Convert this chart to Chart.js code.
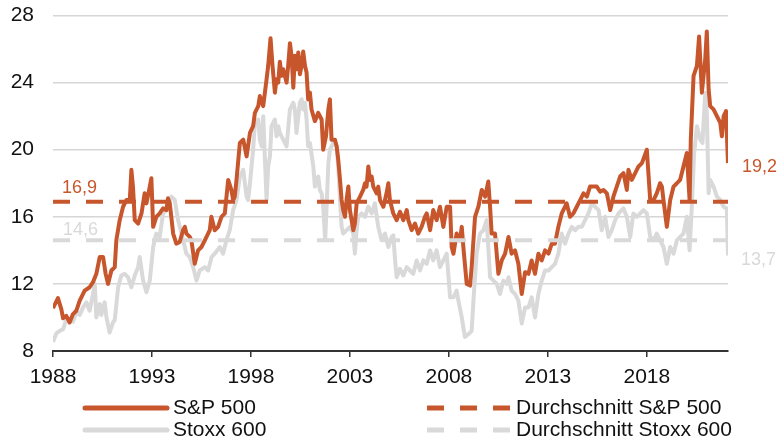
<!DOCTYPE html>
<html><head><meta charset="utf-8">
<script src="https://cdn.jsdelivr.net/npm/chart.js@4.4.1/dist/chart.umd.min.js"></script>
<style>html,body{margin:0;padding:0;background:#fff;}#wrap{width:779px;height:442px;}</style>
</head><body><div id="wrap"><canvas id="c" width="779" height="442"></canvas></div>
<script>
const seriesNames = ['S&P 500', 'Stoxx 600', 'Durchschnitt S&P 500', 'Durchschnitt Stoxx 600'];
const xTickYears = [1988, 1993, 1998, 2003, 2008, 2013, 2018];
const yTickValues = [8, 12, 16, 20, 24, 28];
const avgSP = 16.9;
const avgStoxx = 14.6;

const spYears = [1988.00,1988.25,1988.42,1988.51,1988.67,1988.84,1989.01,1989.18,1989.35,1989.60,1989.85,1990.02,1990.19,1990.36,1990.53,1990.66,1990.78,1990.95,1991.12,1991.20,1991.37,1991.54,1991.71,1991.88,1991.96,1992.04,1992.13,1992.30,1992.47,1992.63,1992.72,1992.89,1992.97,1993.06,1993.22,1993.39,1993.56,1993.73,1993.81,1993.90,1994.07,1994.23,1994.40,1994.57,1994.66,1994.74,1994.91,1994.99,1995.16,1995.33,1995.50,1995.67,1995.92,1996.00,1996.17,1996.34,1996.51,1996.68,1996.85,1997.01,1997.10,1997.18,1997.27,1997.44,1997.61,1997.78,1997.95,1998.11,1998.20,1998.37,1998.45,1998.62,1998.79,1998.87,1998.99,1999.09,1999.21,1999.29,1999.38,1999.46,1999.55,1999.63,1999.80,1999.88,1999.97,2000.05,2000.14,2000.22,2000.30,2000.39,2000.47,2000.56,2000.64,2000.73,2000.81,2000.89,2000.98,2001.06,2001.23,2001.40,2001.57,2001.65,2001.79,2001.91,2001.99,2002.07,2002.24,2002.33,2002.41,2002.50,2002.58,2002.66,2002.75,2002.83,2002.92,2003.00,2003.17,2003.25,2003.34,2003.51,2003.67,2003.76,2003.84,2003.93,2004.01,2004.10,2004.18,2004.35,2004.43,2004.52,2004.69,2004.85,2004.94,2005.02,2005.19,2005.36,2005.53,2005.70,2005.87,2005.95,2006.12,2006.29,2006.45,2006.62,2006.79,2006.88,2007.05,2007.21,2007.38,2007.55,2007.72,2007.89,2008.06,2008.14,2008.23,2008.39,2008.56,2008.65,2008.73,2008.90,2009.07,2009.15,2009.32,2009.49,2009.66,2009.83,2009.99,2010.08,2010.16,2010.33,2010.50,2010.67,2010.84,2011.01,2011.17,2011.34,2011.51,2011.68,2011.85,2012.02,2012.18,2012.35,2012.52,2012.69,2012.86,2013.03,2013.20,2013.36,2013.53,2013.70,2013.95,2014.12,2014.29,2014.46,2014.63,2014.80,2014.97,2015.13,2015.30,2015.47,2015.64,2015.81,2015.98,2016.15,2016.31,2016.48,2016.65,2016.82,2016.99,2017.07,2017.24,2017.41,2017.58,2017.75,2018.00,2018.17,2018.34,2018.50,2018.67,2018.76,2018.84,2019.01,2019.18,2019.35,2019.52,2019.68,2019.85,2020.02,2020.16,2020.22,2020.36,2020.53,2020.64,2020.78,2020.95,2021.03,2021.12,2021.20,2021.37,2021.54,2021.71,2021.79,2021.88,2022.00,2022.10];
const spValues = [10.55,11.15,10.5,9.95,10.1,9.7,10.2,10.4,11.0,11.6,11.8,12.1,12.6,13.6,13.6,12.6,12.0,12.8,13.0,14.6,15.8,16.6,17.0,17.0,18.8,17.8,15.8,15.6,16.2,17.4,16.8,17.8,18.3,15.4,16.0,16.2,16.5,16.4,17.1,16.8,15.0,14.4,14.5,15.2,15.4,15.0,14.8,14.6,13.2,14.0,14.2,14.6,15.2,16.0,15.2,15.4,16.0,16.2,18.2,17.6,17.0,17.2,18.2,20.4,20.6,19.6,21.0,21.4,22.2,22.6,23.2,22.6,24.2,25.0,26.65,25.0,23.4,24.2,24.0,25.25,24.4,24.8,24.0,25.0,26.35,25.6,23.7,25.6,24.8,25.8,24.5,25.0,25.85,25.0,24.6,23.0,23.4,22.4,21.7,22.2,21.8,20.0,20.8,22.4,23.0,20.6,20.6,20.2,19.4,18.2,17.0,16.4,16.0,17.0,17.8,16.4,15.2,15.6,16.8,17.2,17.6,18.0,17.8,19.0,18.2,18.4,17.8,17.4,17.8,17.0,16.6,17.4,18.0,17.0,16.2,15.8,16.3,15.8,16.4,15.8,15.2,15.6,15.0,15.4,16.0,16.2,15.2,16.4,15.8,16.6,15.4,16.6,16.6,14.2,13.8,15.0,14.6,15.4,14.2,12.0,11.9,13.0,16.0,16.6,17.6,17.2,18.1,16.6,15.0,15.0,12.6,13.4,13.8,14.8,13.8,14.0,13.2,11.4,12.7,12.6,13.4,12.6,13.8,13.4,14.0,13.8,14.4,14.4,15.4,16.2,16.8,16.0,16.2,16.6,17.0,17.4,17.2,17.8,17.8,17.8,17.5,17.6,17.4,16.4,17.2,17.8,18.4,18.6,17.6,18.8,18.2,18.6,19.0,19.2,20.0,17.0,17.0,17.4,18.0,17.8,17.0,15.4,17.0,17.8,18.0,18.2,19.0,19.8,17.0,20.6,24.4,25.0,26.75,23.4,25.4,27.05,23.6,22.6,22.4,22.0,21.6,20.8,22.0,22.3,19.2];

const stoxxYears = [1988.00,1988.17,1988.34,1988.51,1988.67,1988.84,1989.01,1989.18,1989.35,1989.52,1989.69,1989.85,1990.02,1990.11,1990.19,1990.27,1990.36,1990.44,1990.61,1990.70,1990.86,1991.03,1991.12,1991.29,1991.45,1991.62,1991.79,1991.96,1992.13,1992.30,1992.38,1992.55,1992.72,1992.89,1993.06,1993.22,1993.39,1993.56,1993.81,1993.98,1994.15,1994.32,1994.49,1994.74,1994.91,1995.08,1995.25,1995.41,1995.67,1995.84,1996.01,1996.17,1996.43,1996.59,1996.76,1996.93,1997.10,1997.27,1997.44,1997.61,1997.78,1997.86,1997.95,1998.11,1998.20,1998.37,1998.45,1998.54,1998.62,1998.70,1998.79,1998.87,1998.96,1999.04,1999.21,1999.29,1999.38,1999.46,1999.63,1999.80,1999.97,2000.14,2000.22,2000.30,2000.47,2000.56,2000.64,2000.73,2000.81,2000.89,2000.98,2001.15,2001.23,2001.40,2001.48,2001.57,2001.65,2001.75,2001.85,2001.91,2001.99,2002.16,2002.33,2002.41,2002.50,2002.58,2002.66,2002.83,2003.00,2003.17,2003.25,2003.34,2003.42,2003.59,2003.76,2003.93,2004.10,2004.26,2004.43,2004.60,2004.77,2004.94,2005.11,2005.19,2005.27,2005.36,2005.53,2005.70,2005.87,2006.03,2006.20,2006.37,2006.54,2006.71,2006.88,2007.05,2007.21,2007.38,2007.55,2007.72,2007.89,2008.06,2008.23,2008.39,2008.48,2008.65,2008.81,2008.98,2009.15,2009.24,2009.40,2009.57,2009.74,2009.91,2010.08,2010.25,2010.42,2010.58,2010.75,2010.92,2011.01,2011.17,2011.34,2011.51,2011.68,2011.85,2012.02,2012.18,2012.35,2012.52,2012.69,2012.86,2013.03,2013.20,2013.36,2013.53,2013.70,2013.87,2014.04,2014.21,2014.38,2014.54,2014.71,2014.88,2015.05,2015.22,2015.39,2015.56,2015.72,2015.89,2016.06,2016.23,2016.40,2016.57,2016.82,2016.99,2017.16,2017.32,2017.49,2017.66,2017.83,2018.00,2018.17,2018.34,2018.50,2018.67,2018.84,2019.01,2019.18,2019.35,2019.52,2019.68,2019.85,2020.02,2020.16,2020.27,2020.39,2020.53,2020.70,2020.81,2020.95,2021.03,2021.12,2021.20,2021.37,2021.54,2021.71,2021.88,2022.04,2022.10];
const stoxxValues = [8.54,9.05,9.2,9.3,9.85,9.85,9.75,10.33,10.15,10.6,10.9,10.4,11.4,12.0,10.0,10.4,10.8,10.15,10.9,10.0,9.1,9.7,9.85,11.8,12.5,12.6,12.4,11.8,12.5,13.0,13.6,12.2,11.5,12.2,14.2,15.0,14.8,16.2,16.6,17.2,17.0,15.8,15.0,13.8,13.6,13.0,12.2,12.8,13.0,12.8,13.6,13.8,14.2,13.8,14.6,15.2,16.4,17.0,18.4,18.8,17.2,17.0,18.0,20.0,21.6,21.8,20.6,20.2,22.0,19.6,17.0,19.0,19.6,21.4,21.8,20.8,21.4,21.0,20.6,20.2,22.4,22.8,22.4,21.0,22.8,23.0,22.4,22.8,21.8,20.2,20.4,19.0,17.8,18.4,17.6,17.4,16.6,14.6,17.4,19.2,20.0,20.4,20.2,19.0,17.0,15.4,15.0,15.2,15.4,15.0,13.8,15.2,16.0,16.2,16.0,16.6,16.2,16.8,15.4,14.6,15.0,14.2,14.8,14.9,13.6,12.4,12.9,12.5,13.0,12.8,12.6,13.4,12.8,13.4,13.2,14.0,13.4,14.0,13.0,13.4,13.8,11.2,11.2,11.6,11.0,10.0,8.84,9.0,9.2,11.0,13.8,15.0,15.2,15.8,12.4,12.2,12.0,11.4,12.2,12.0,12.4,11.6,11.4,11.0,9.64,10.6,10.6,11.2,10.0,11.4,12.2,12.8,12.8,13.0,13.2,13.8,15.0,14.4,15.0,15.4,15.2,15.4,15.4,15.8,16.2,16.8,16.6,16.4,15.2,16.0,14.8,15.2,15.8,16.2,16.5,16.0,14.8,16.2,16.0,16.2,16.4,16.2,14.8,14.6,15.0,14.6,14.2,13.2,14.2,13.8,14.6,14.8,15.0,16.0,14.0,16.6,19.8,21.4,20.6,20.4,23.4,22.2,17.4,18.2,17.8,17.2,17.0,16.6,16.5,13.7];

const ORANGE = '#C8562C';
const GRAY = '#D9D9D9';
const FONT = '"Liberation Sans", Arial, sans-serif';
const DASH = [17, 16];

const toPoints = (xs, ys) => xs.map((x, i) => ({x: x, y: ys[i]}));
const xMin = spYears[0];
const xMax = spYears[spYears.length - 1];
const fmt = v => v.toFixed(1).replace('.', ',');

const datasets = [
  {label: seriesNames[0], data: toPoints(spYears, spValues), borderColor: ORANGE, borderWidth: 4, order: 3},
  {label: seriesNames[1], data: toPoints(stoxxYears, stoxxValues), borderColor: GRAY, borderWidth: 4, order: 4},
  {label: seriesNames[2], data: toPoints([xMin, xMax], [avgSP, avgSP]), borderColor: ORANGE, borderWidth: 4, borderDash: DASH, order: 1},
  {label: seriesNames[3], data: toPoints([xMin, xMax], [avgStoxx, avgStoxx]), borderColor: GRAY, borderWidth: 4, borderDash: DASH, order: 2}
].map(d => Object.assign({pointRadius: 0, tension: 0, fill: false, borderJoinStyle: 'round', borderCapStyle: 'butt'}, d));

const annot = {
  id: 'annot',
  afterDraw(chart) {
    const ctx = chart.ctx, ys = chart.scales.y, ca = chart.chartArea;
    ctx.save();
    ctx.textBaseline = 'middle';
    ctx.textAlign = 'left';
    ctx.font = '18px ' + FONT;
    ctx.fillStyle = ORANGE;
    ctx.fillText(fmt(avgSP), ca.left + 9, ys.getPixelForValue(avgSP) - 14);
    ctx.fillStyle = GRAY;
    ctx.fillText(fmt(avgStoxx), ca.left + 10, ys.getPixelForValue(avgStoxx) - 10);
    const lastSP = spValues[spValues.length - 1];
    const lastSt = stoxxValues[stoxxValues.length - 1];
    ctx.fillStyle = ORANGE;
    ctx.fillText(fmt(lastSP), ca.right + 14, ys.getPixelForValue(lastSP) + 4);
    ctx.fillStyle = GRAY;
    ctx.fillText(fmt(lastSt), ca.right + 13, ys.getPixelForValue(lastSt) + 5);

    // legend: two columns
    const cols = [{x0: 85, x1: 167, tx: 173}, {x0: 427, x1: 510, tx: 516}];
    const rows = [408, 430];
    const place = [[0, 0], [0, 1], [1, 0], [1, 1]];
    ctx.font = '21px ' + FONT;
    chart.data.datasets.forEach((ds, i) => {
      const c = cols[place[i][0]], r = rows[place[i][1]];
      ctx.strokeStyle = ds.borderColor;
      ctx.lineWidth = 5;
      ctx.lineCap = ds.borderDash ? 'butt' : 'round';
      ctx.setLineDash(ds.borderDash || []);
      ctx.beginPath();
      ctx.moveTo(c.x0, r);
      ctx.lineTo(c.x1, r);
      ctx.stroke();
      ctx.setLineDash([]);
      ctx.fillStyle = '#111';
      ctx.fillText(ds.label, c.tx, r);
    });
    ctx.restore();
  }
};

new Chart(document.getElementById('c'), {
  type: 'line',
  data: {datasets: datasets},
  options: {
    responsive: false,
    devicePixelRatio: 1,
    animation: false,
    layout: {padding: {top: 15.5, right: 51, left: 0, bottom: 0}},
    plugins: {legend: {display: false}, tooltip: {enabled: false}},
    scales: {
      x: {
        type: 'linear', min: xMin, max: xMax,
        afterBuildTicks: s => { s.ticks = xTickYears.map(v => ({value: v})); },
        afterFit: s => { s.height = 91; s.paddingLeft = 0; s.paddingRight = 0; },
        grid: {display: true, drawOnChartArea: false, drawTicks: true, tickLength: 6, color: '#333', lineWidth: 1.5},
        border: {display: true, color: '#333', width: 2},
        ticks: {padding: 8, color: '#111', font: {family: FONT, size: 21}, maxRotation: 0, callback: v => String(v)}
      },
      y: {
        min: 8, max: 28,
        afterBuildTicks: s => { s.ticks = yTickValues.map(v => ({value: v})); },
        afterFit: s => { s.width = 53; s.paddingTop = 0; s.paddingBottom = 0; },
        grid: {drawTicks: false, lineWidth: 1.5, color: c => (c.tick && c.tick.value === 8) ? 'rgba(0,0,0,0)' : '#D6D6D6'},
        border: {display: false},
        ticks: {padding: 19, color: '#111', font: {family: FONT, size: 21}}
      }
    }
  },
  plugins: [annot]
});
</script>
</body></html>
